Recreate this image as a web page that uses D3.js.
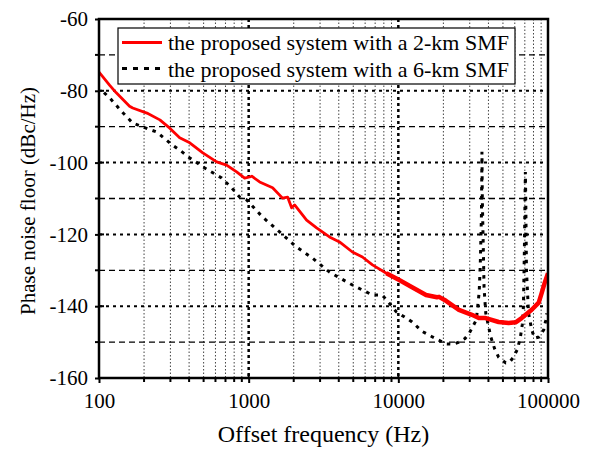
<!DOCTYPE html>
<html>
<head>
<meta charset="utf-8">
<script src="https://cdn.jsdelivr.net/npm/d3@7"></script>
<style>
  html, body { margin: 0; padding: 0; background: #fff; }
  svg { display: block; }
</style>
</head>
<body>
<svg id="chart" width="591" height="449"></svg>
<script>
// ---- data ----
const seriesNames = ["the proposed system with a 2-km SMF", "the proposed system with a 6-km SMF"];
const xTickLabels = ["100", "1000", "10000", "100000"];
const yTickLabels = ["-60", "-80", "-100", "-120", "-140", "-160"];

const freq2km = [100, 118, 130, 160, 168, 209, 255, 297, 346, 404, 494, 611, 712, 831, 940, 1016, 1049, 1184, 1445, 1684, 1820, 1936, 2028, 2438, 2844, 3467, 4045, 4932, 5754, 6714, 8318, 10139, 12359, 15310, 18113, 18700, 20800, 25410, 31000, 34500, 38370, 46800, 54600, 60800, 66700, 77800, 86700, 90800, 95000, 100000];
const pn2km   = [-74.8, -78.5, -80.5, -84.3, -84.8, -86.2, -88.1, -90.4, -93.1, -94.5, -97.3, -99.8, -100.7, -102.6, -104.3, -104.0, -103.8, -105.4, -107.0, -109.9, -109.6, -112.6, -111.8, -116.0, -118.2, -120.7, -122.1, -124.9, -126.3, -128.5, -130.8, -132.7, -134.7, -136.9, -137.5, -137.4, -138.5, -141.0, -142.4, -143.3, -143.3, -144.4, -144.7, -144.5, -143.3, -141.0, -139.0, -136.3, -133.5, -130.8];

const freq6km = [108, 118, 145, 168, 206, 244, 307, 346, 404, 509, 660, 769, 870, 971, 1240, 1610, 2085, 2671, 3467, 4932, 6714, 7820, 9120, 9700, 11300, 12359, 14400, 16800, 20800, 23200, 25400, 27900, 29800, 31600, 33200, 34700, 35300, 35900, 36200, 36400, 37400, 38400, 41500, 44100, 46800, 52200, 55300, 58800, 62500, 65400, 67400, 68500, 69500, 70600, 71100, 71800, 74100, 77800, 81200, 86700, 93600, 96500, 98000];
const pn6km   = [-80.5, -82.0, -86.2, -89.0, -90.4, -91.5, -95.0, -96.5, -98.7, -101.5, -104.3, -107.0, -109.6, -110.4, -115.2, -119.3, -123.5, -126.6, -130.5, -134.1, -136.9, -136.9, -140.2, -141.6, -143.3, -144.4, -147.0, -148.5, -150.5, -150.6, -150.0, -149.0, -147.5, -145.5, -143.8, -136.0, -128.0, -115.0, -97.0, -110.0, -135.0, -142.0, -148.6, -152.0, -154.2, -155.8, -155.6, -154.2, -152.0, -148.6, -145.0, -140.2, -125.0, -102.6, -112.0, -130.0, -141.9, -146.5, -148.9, -148.6, -146.6, -144.0, -142.0];

// ---- layout ----
const FONT = '"Liberation Serif"';
const svg = d3.select("#chart");
const L = 99, R = 548, T = 19, B = 378;
const x = d3.scaleLog().domain([100, 100000]).range([L, R]);
const y = d3.scaleLinear().domain([-160, -60]).range([B, T]);

const g = svg.append("g");

// grid: vertical minor
const minorX = [];
[100, 1000, 10000].forEach(d => { for (let k = 2; k <= 9; k++) minorX.push(d * k); });
g.selectAll(".vminor").data(minorX).enter().append("line")
  .attr("x1", d => x(d)).attr("x2", d => x(d)).attr("y1", T).attr("y2", B)
  .attr("stroke", "#444").attr("stroke-width", 1).attr("stroke-dasharray", "1.5,2");
// vertical major
g.selectAll(".vmajor").data([1000, 10000]).enter().append("line")
  .attr("x1", d => x(d)).attr("x2", d => x(d)).attr("y1", T).attr("y2", B)
  .attr("stroke", "#000").attr("stroke-width", 2.5).attr("stroke-dasharray", "3,3");
// horizontal major
g.selectAll(".hmajor").data([-80, -100, -120, -140]).enter().append("line")
  .attr("x1", L).attr("x2", R).attr("y1", d => y(d)).attr("y2", d => y(d))
  .attr("stroke", "#000").attr("stroke-width", 2).attr("stroke-dasharray", "3,4");
// horizontal minor
g.selectAll(".hminor").data([-70, -90, -110, -130, -150]).enter().append("line")
  .attr("x1", L).attr("x2", R).attr("y1", d => y(d)).attr("y2", d => y(d))
  .attr("stroke", "#000").attr("stroke-width", 1.3).attr("stroke-dasharray", "6,4");

// curves
svg.append("clipPath").attr("id", "clip").append("rect")
  .attr("x", L).attr("y", T).attr("width", R - L).attr("height", B - T);

const line = d3.line().x(d => x(d[0])).y(d => y(d[1]));
const d6 = freq6km.map((f, i) => [f, pn6km[i]]);
const d2 = freq2km.map((f, i) => [f, pn2km[i]]);

g.append("path").datum(d6).attr("d", line).attr("fill", "none")
  .attr("stroke", "#000").attr("stroke-width", 3).attr("stroke-dasharray", "3.5,5.5")
  .attr("clip-path", "url(#clip)");
g.append("path").datum(d2).attr("d", line).attr("fill", "none")
  .attr("stroke", "#ff0000").attr("stroke-width", 2.8).attr("stroke-linejoin", "round")
  .attr("clip-path", "url(#clip)");
// noisier (visually thicker) high-frequency part of the red trace
g.append("path").datum(d2.filter(d => d[0] >= 8000)).attr("d", line).attr("fill", "none")
  .attr("stroke", "#ff0000").attr("stroke-width", 4.5).attr("stroke-linejoin", "round")
  .attr("clip-path", "url(#clip)");

// axes
const xAxis = d3.axisBottom(x).tickValues([100, 1000, 10000, 100000])
  .tickFormat((d, i) => xTickLabels[i]).tickSizeInner(5).tickSizeOuter(0).tickPadding(10);
const xa = svg.append("g").attr("transform", `translate(0,${B})`).call(xAxis);
const yAxis = d3.axisLeft(y).tickValues([-60, -80, -100, -120, -140, -160])
  .tickFormat((d, i) => yTickLabels[i]).tickSizeInner(4).tickSizeOuter(0).tickPadding(7);
const ya = svg.append("g").attr("transform", `translate(${L},0)`).call(yAxis);
[xa, ya].forEach(a => {
  a.attr("font-family", null).attr("font-size", null);
  a.select(".domain").remove();
  a.selectAll("text").attr("fill", "#000").style("font-family", FONT).style("font-size", "21px");
  a.selectAll("line").attr("stroke", "#000").attr("stroke-width", 2);
});
// inward part of major ticks
svg.selectAll(".yin").data([-80, -100, -120, -140]).enter().append("line")
  .attr("x1", L).attr("x2", L + 5).attr("y1", d => y(d)).attr("y2", d => y(d))
  .attr("stroke", "#000").attr("stroke-width", 2);
// minor ticks
svg.selectAll(".yminor").data([-70, -90, -110, -130, -150]).enter().append("line")
  .attr("x1", L - 4).attr("x2", L).attr("y1", d => y(d)).attr("y2", d => y(d))
  .attr("stroke", "#000").attr("stroke-width", 2);
svg.selectAll(".xminor").data(minorX).enter().append("line")
  .attr("x1", d => x(d)).attr("x2", d => x(d)).attr("y1", B).attr("y2", B + 4)
  .attr("stroke", "#000").attr("stroke-width", 2);
svg.selectAll(".xin").data([1000, 10000]).enter().append("line")
  .attr("x1", d => x(d)).attr("x2", d => x(d)).attr("y1", B - 4).attr("y2", B)
  .attr("stroke", "#000").attr("stroke-width", 2);

// frame
svg.append("rect").attr("x", L).attr("y", T).attr("width", R - L).attr("height", B - T)
  .attr("fill", "none").attr("stroke", "#000").attr("stroke-width", 2.5);

// axis titles
svg.append("text").attr("x", (L + R) / 2).attr("y", 442).attr("text-anchor", "middle")
  .attr("fill", "#000").style("font-family", FONT).style("font-size", "24px").text("Offset frequency (Hz)");
svg.append("text").attr("transform", `translate(35,201) rotate(-90)`)
  .attr("text-anchor", "middle").attr("fill", "#000").style("font-family", FONT).style("font-size", "21px")
  .text("Phase noise floor (dBc/Hz)");

// legend
const lg = svg.append("g");
lg.append("rect").attr("x", 118).attr("y", 28).attr("width", 397).attr("height", 56)
  .attr("fill", "#fff").attr("stroke", "#000").attr("stroke-width", 1.2);
lg.append("line").attr("x1", 122).attr("x2", 162).attr("y1", 42.5).attr("y2", 42.5)
  .attr("stroke", "#ff0000").attr("stroke-width", 3);
lg.append("line").attr("x1", 122).attr("x2", 162).attr("y1", 68.5).attr("y2", 68.5)
  .attr("stroke", "#000").attr("stroke-width", 3).attr("stroke-dasharray", "5,6");
lg.append("text").attr("x", 168).attr("y", 50).attr("fill", "#000").style("font-family", FONT).style("font-size", "22px").text(seriesNames[0]);
lg.append("text").attr("x", 168).attr("y", 77).attr("fill", "#000").style("font-family", FONT).style("font-size", "22px").text(seriesNames[1]);
</script>
</body>
</html>
